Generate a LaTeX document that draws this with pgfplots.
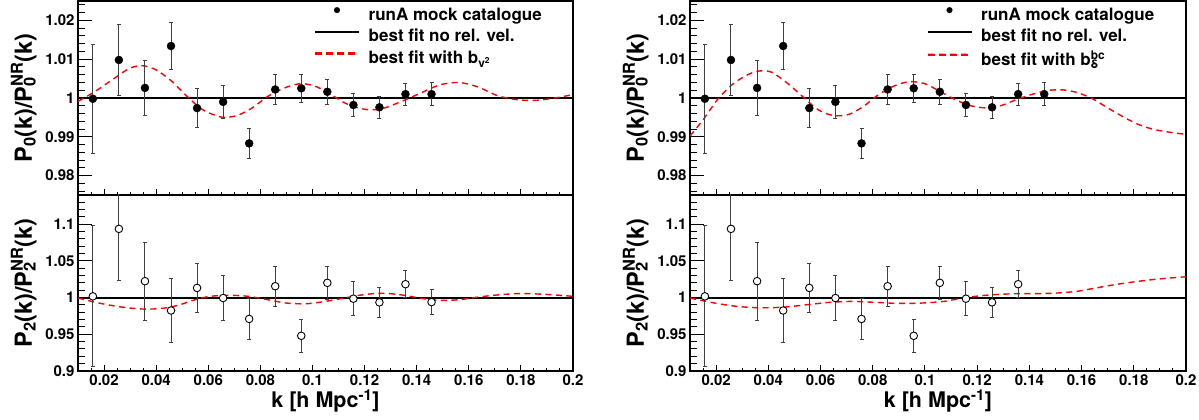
\documentclass[border=0pt]{standalone}
\usepackage{pgfplots}
\usepackage{pgfplotstable}
\pgfplotsset{compat=1.18}
\usepackage{fontspec}
\setmainfont{TeX Gyre Heros}
\newcommand\supsub[2]{\setbox0=\hbox{\textsuperscript{#1}}\setbox2=\hbox{\textsubscript{#2}}\dimen0=\ifdim\wd0>\wd2 \wd0\else\wd2\fi\rlap{\copy0}\rlap{\copy2}\hskip\dimen0\relax}

\pgfplotstableread{
k v e
0.0157 0.9998 0.0141
0.0257 1.0098 0.0091
0.0357 1.0026 0.0071
0.0457 1.0134 0.0061
0.0557 0.9974 0.0050
0.0657 0.9990 0.0042
0.0757 0.9883 0.0038
0.0857 1.0022 0.0038
0.0957 1.0025 0.0036
0.1057 1.0016 0.0033
0.1157 0.9982 0.0030
0.1257 0.9976 0.0029
0.1357 1.0010 0.0028
0.1457 1.0010 0.0029
}\PzeroData

\pgfplotstableread{
k v e
0.0157 1.0018 0.096
0.0257 1.0938 0.071
0.0357 1.0225 0.053
0.0457 0.9825 0.044
0.0557 1.0133 0.033
0.0657 0.9995 0.031
0.0757 0.9710 0.028
0.0857 1.0156 0.027
0.0957 0.9480 0.0225
0.1057 1.0202 0.023
0.1157 0.9986 0.0232
0.1257 0.9936 0.020
0.1357 1.0184 0.0187
0.1457 0.9940 0.0175
}\PtwoData

\pgfplotstableread{
k v e
0.0157 1.0018 0.096
0.0257 1.0938 0.071
0.0357 1.0225 0.053
0.0457 0.9825 0.044
0.0557 1.0133 0.033
0.0657 0.9995 0.031
0.0757 0.9710 0.028
0.0857 1.0156 0.027
0.0957 0.9480 0.0225
0.1057 1.0202 0.023
0.1157 0.9986 0.0232
0.1257 0.9936 0.020
0.1357 1.0184 0.0187
}\PtwoDataR

\pgfplotstableread{
k v
0.0100 0.99915
0.0166 1.0017
0.0240 1.0051
0.0299 1.0077
0.0350 1.0083
0.0401 1.0072
0.0460 1.0043
0.0519 1.0004
0.0578 0.9970
0.0651 0.99506
0.0710 0.99549
0.0769 0.99745
0.0828 1.0004
0.0901 1.0028
0.0960 1.0037
0.1019 1.0028
0.1078 1.0006
0.1137 0.9983
0.1210 0.9970
0.1269 0.9973
0.1343 0.99915
0.1416 1.0013
0.1490 1.0034
0.1563 1.0040
0.1637 1.0028
0.1710 1.0006
0.1784 0.99957
0.1858 0.9994
0.1931 1.0000
0.2000 1.0009
}\FitLup

\pgfplotstableread{
k v
0.0100 0.9995
0.0181 0.9926
0.0269 0.9871
0.0357 0.9844
0.0431 0.9857
0.0490 0.9903
0.0549 0.9972
0.0607 1.0018
0.0681 1.0032
0.0754 1.0018
0.0828 0.9972
0.0901 0.9926
0.0975 0.9917
0.1049 0.9949
0.1122 0.9995
0.1196 1.0041
0.1269 1.0060
0.1343 1.0037
0.1416 0.9991
0.1490 0.9963
0.1563 0.9972
0.1637 1.0009
0.1710 1.0037
0.1784 1.0055
0.1858 1.0051
0.1931 1.0037
0.2000 1.0018
}\FitLdown

\pgfplotstableread{
k v
0.0100 0.9902
0.0151 0.99447
0.0210 1.0000
0.0268 1.0038
0.0327 1.0062
0.0370 1.0070
0.0414 1.0066
0.0473 1.0038
0.0531 1.0004
0.0590 0.9970
0.0648 0.99549
0.0707 0.99574
0.0765 0.99787
0.0823 1.0009
0.0882 1.0031
0.0940 1.0042
0.0999 1.0037
0.1057 1.0017
0.1116 0.99957
0.1174 0.99804
0.1233 0.99745
0.1291 0.99804
0.1350 0.99957
0.1408 1.0009
0.1467 1.0019
0.1525 1.0021
0.1583 1.0014
0.1642 0.9998
0.1700 0.99745
0.1759 0.99515
0.1817 0.9932
0.1876 0.99191
0.1948 0.99106
0.2000 0.99064
}\FitRup

\pgfplotstableread{
k v
0.0100 0.9995
0.0195 0.9926
0.0283 0.9880
0.0370 0.9862
0.0458 0.9871
0.0546 0.9903
0.0634 0.9936
0.0721 0.9949
0.0809 0.9936
0.0897 0.9922
0.0984 0.9926
0.1072 0.9949
0.1145 0.9995
0.1218 1.0028
0.1291 1.0046
0.1364 1.0055
0.1437 1.0055
0.1510 1.0064
0.1583 1.0087
0.1656 1.0133
0.1729 1.0179
0.1802 1.0216
0.1876 1.0248
0.1948 1.0271
0.2000 1.0285
}\FitRdown

\pgfplotsset{
  panel/.style={
    scale only axis, anchor=south west,
    xmin=0.01, xmax=0.2,
    xtick={0.02,0.04,0.06,0.08,0.1,0.12,0.14,0.16,0.18,0.2},
    minor xtick={0.01,0.015,0.025,0.03,0.035,0.045,0.05,0.055,0.065,0.07,0.075,0.085,0.09,0.095,0.105,0.11,0.115,0.125,0.13,0.135,0.145,0.15,0.155,0.165,0.17,0.175,0.185,0.19,0.195},
    xtick pos=bottom, ytick pos=left, tick align=inside,
    scaled ticks=false,
    axis line style={line width=1.3pt},
    major tick length=14pt, minor tick length=7pt,
    xtick style={/pgfplots/major tick length=5.5pt,/pgfplots/minor tick length=3pt},
    tick style={line width=1pt, black},
    ticklabel style={font=\fontsize{15}{18}\selectfont\bfseries},
    xticklabel style={/pgf/number format/fixed,/pgf/number format/precision=2,/pgf/number format/assume math mode=true},
    yticklabel style={/pgf/number format/fixed,/pgf/number format/precision=2,/pgf/number format/assume math mode=true},
    label style={font=\fontsize{21.5}{24}\selectfont\bfseries},
    ylabel style={at={(axis description cs:-0.093,0.5)}, anchor=base, font=\fontsize{23.5}{26}\selectfont\bfseries},
  },
  upper/.style={
    height=194pt, ymin=0.975, ymax=1.025,
    ytick={0.98,0.99,1,1.01,1.02},
    minor ytick={0.976,0.978,0.982,0.984,0.986,0.988,0.992,0.994,0.996,0.998,1.002,1.004,1.006,1.008,1.012,1.014,1.016,1.018,1.022,1.024},
    xticklabels={},
    ylabel={P\textsubscript{0}(k)/P\supsub{NR}{0}(k)},
    legend style={draw=none, fill=none, at={(rel axis cs:0.479,0.977)}, anchor=north west,
      font=\fontsize{17}{20}\selectfont\bfseries, inner sep=0pt, row sep=3.5pt,
      /tikz/every odd column/.append style={column sep=8pt}},
    legend cell align=left,
  },
  lower/.style={
    height=176pt, ymin=0.9, ymax=1.14,
    ytick={0.9,0.95,1,1.05,1.1},
    minor ytick={0.91,0.92,0.93,0.94,0.96,0.97,0.98,0.99,1.01,1.02,1.03,1.04,1.06,1.07,1.08,1.09,1.11,1.12,1.13},
    ylabel={P\textsubscript{2}(k)/P\supsub{NR}{2}(k)},
    xlabel={k [h Mpc\textsuperscript{-1}]},
    xlabel style={at={(axis description cs:0.5,0)}, anchor=base, yshift=-37pt},
  },
  fitline/.style={red, line width=1.4pt, dash pattern=on 6pt off 4.5pt},
  oneline/.style={black, line width=1.8pt},
  errs/.style={
    /pgfplots/error bars/y dir=both, /pgfplots/error bars/y explicit,
    /pgfplots/error bars/error mark=|,
    /pgfplots/error bars/error bar style={line width=1pt, black!75},
    /pgfplots/error bars/error mark options={line width=0.9pt, mark size=2pt, black!75}},
  dotleg/.style={legend image code/.code={\fill[black] (21.5pt,4.5pt) circle (2.8pt);}},
  blackleg/.style={legend image code/.code={\fill[black] (0pt,3.6pt) rectangle (43pt,5.4pt);}},
  redleg/.style={legend image code/.code={\fill[red] (0pt,3.8pt) rectangle (6pt,5.2pt) (11pt,3.8pt) rectangle (17pt,5.2pt) (22pt,3.8pt) rectangle (28pt,5.2pt) (33pt,3.8pt) rectangle (39pt,5.2pt);}},
}

\begin{document}
\bfseries
\begin{tikzpicture}
\useasboundingbox (0,0) rectangle (1199pt,420pt);

% ---------- left upper
\begin{axis}[panel, upper, at={(78pt,225pt)}, width=495pt]
\addplot[oneline, forget plot] coordinates {(0.01,1) (0.2,1)};
\addplot[fitline, smooth, forget plot] table[x=k,y=v] {\FitLup};
\addplot[forget plot, only marks, mark=*, mark size=4pt, black, errs] table[x=k,y=v,y error=e] {\PzeroData};
\addlegendimage{dotleg}
\addlegendentry{runA mock catalogue}
\addlegendimage{blackleg}
\addlegendentry{best fit no rel. vel.}
\addlegendimage{redleg}
\addlegendentry{best fit with b\textsubscript{v\textsuperscript{2}}}
\end{axis}

% ---------- left lower
\begin{axis}[panel, lower, at={(78pt,49pt)}, width=495pt]
\addplot[oneline] coordinates {(0.01,1) (0.2,1)};
\addplot[fitline, smooth] table[x=k,y=v] {\FitLdown};
\addplot[only marks, mark=*, mark size=3.8pt, mark options={fill=white, draw=black, line width=0.9pt}, errs] table[x=k,y=v,y error=e] {\PtwoData};
\end{axis}

% ---------- right upper
\begin{axis}[panel, upper, at={(690pt,225pt)}, width=496pt]
\addplot[oneline, forget plot] coordinates {(0.01,1) (0.2,1)};
\addplot[fitline, smooth, forget plot] table[x=k,y=v] {\FitRup};
\addplot[forget plot, only marks, mark=*, mark size=4pt, black, errs] table[x=k,y=v,y error=e] {\PzeroData};
\addlegendimage{dotleg}
\addlegendentry{runA mock catalogue}
\addlegendimage{blackleg}
\addlegendentry{best fit no rel. vel.}
\addlegendimage{redleg}
\addlegendentry{best fit with b\supsub{bc}{δ}}
\end{axis}

% ---------- right lower
\begin{axis}[panel, lower, at={(690pt,49pt)}, width=496pt]
\addplot[oneline] coordinates {(0.01,1) (0.2,1)};
\addplot[fitline, smooth] table[x=k,y=v] {\FitRdown};
\addplot[only marks, mark=*, mark size=3.8pt, mark options={fill=white, draw=black, line width=0.9pt}, errs] table[x=k,y=v,y error=e] {\PtwoDataR};
\end{axis}
\end{tikzpicture}
\end{document}
